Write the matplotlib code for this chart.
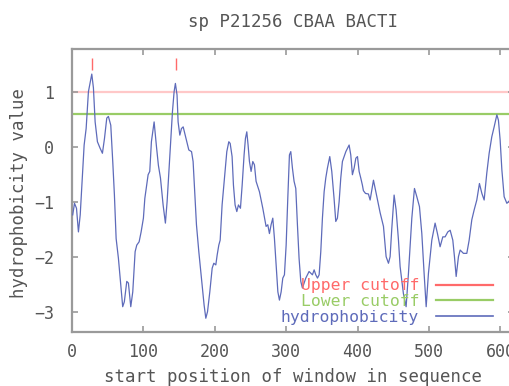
import matplotlib
matplotlib.use('Agg')
import matplotlib.pyplot as plt
from matplotlib.lines import Line2D

plt.rcParams['font.family'] = ['DejaVu Sans Mono']

title = "sp P21256 CBAA BACTI"
x_label = "start position of window in sequence"
y_label = "hydrophobicity value"

positions = [
    1, 3.5, 6.3, 9, 11.5, 13.8, 17, 19.8, 23, 25.6, 27.7, 30, 32.4, 35.6, 39.4,
    42.6, 45.5, 48.7, 51, 54.3, 57.1, 59.4, 61.8, 65, 68.3, 71, 73.3, 76.7, 79,
    82.3, 85.1, 88.4, 90.7, 94, 96.8, 100, 102, 106.6, 108.9, 111.2, 115, 118.3,
    121, 123.9, 127.6, 130.8, 133.2, 136, 138.8, 140.7, 143, 144.8, 147.1, 148.6,
    151, 153.3, 155.7, 158, 160.9, 163.6, 167.4, 169.6, 171.9, 174.3, 177.6,
    181.3, 185, 187.4, 189.8, 193, 196.3, 198.6, 201.4, 203.3, 205.6, 207.5,
    210.2, 213.5, 216.8, 219.6, 221.5, 224.2, 226.1, 228.4, 230.8, 233.1, 235.9,
    238.3, 241, 242.9, 244.8, 246.6, 248.5, 250.8, 253.2, 255.5, 257.8, 262.5,
    267.2, 271.8, 274.2, 276.5, 278.8, 281.2, 283.5, 285.9, 288.3, 290.5, 292.9,
    295.2, 297.5, 299.9, 302.2, 304.5, 306.4, 308.7, 311, 313.4, 315.7, 318,
    320.4, 322.7, 325, 327.4, 329.7, 332, 334.4, 336.7, 339.1, 341.4, 343.8,
    346.1, 348.4, 350.7, 353.1, 355.4, 357.7, 361, 363.8, 367, 369.4, 371.7,
    374.1, 376.4, 378.7, 381.1, 383.5, 385.8, 388.1, 390.4, 392.7, 395.1, 397.5,
    399.8, 402.1, 404.4, 406.7, 408.1, 411, 415.1, 417.5, 422.2, 426.9, 431.5,
    436.2, 439.9, 443.2, 445.5, 447.8, 451.1, 453.9, 457.2, 459.5, 464.1, 467.9,
    471.2, 475.9, 479.6, 482.9, 486.6, 489.9, 493.1, 496, 499.2, 503.9, 508.5,
    511.8, 515.5, 519.3, 522.5, 526.3, 529.6, 533.3, 535.6, 538, 541.2, 543.6,
    548.2, 552.9, 556.2, 559.9, 563.2, 566.9, 570.6, 574, 577.2, 580.9, 584.2,
    587.9, 591.2, 595, 597.2, 599.6, 602, 605.2, 609, 613.6, 617,
]

hydrophobicity = [
    -1.24, -1.03, -1.12, -1.55, -1.24, -0.70, 0.03, 0.33, 1.0, 1.18, 1.32, 1.07,
    0.45, 0.09, -0.03, -0.12, 0.15, 0.52, 0.55, 0.39, -0.28, -0.88, -1.67, -2.03,
    -2.51, -2.91, -2.82, -2.45, -2.48, -2.91, -2.64, -1.91, -1.79, -1.73, -1.55,
    -1.30, -0.94, -0.51, -0.45, 0.09, 0.45, 0.0, -0.34, -0.57, -1.06, -1.39,
    -1.0, -0.39, 0.21, 0.64, 1.0, 1.15, 0.94, 0.45, 0.21, 0.33, 0.36, 0.24, 0.09,
    -0.06, -0.09, -0.27, -0.82, -1.42, -1.91, -2.39, -2.88, -3.12, -3.0, -2.64,
    -2.21, -2.12, -2.15, -1.97, -1.79, -1.70, -1.06, -0.57, -0.09, 0.09, 0.06,
    -0.18, -0.70, -1.06, -1.18, -1.06, -1.12, -0.70, -0.15, 0.15, 0.27, 0.03,
    -0.27, -0.45, -0.27, -0.33, -0.63, -0.82, -1.12, -1.45, -1.42, -1.58, -1.42,
    -1.30, -1.67, -2.15, -2.64, -2.79, -2.64, -2.39, -2.33, -1.79, -0.94, -0.15,
    -0.09, -0.39, -0.63, -0.76, -1.42, -2.03, -2.45, -2.57, -2.48, -2.39, -2.33,
    -2.27, -2.30, -2.33, -2.24, -2.33, -2.39, -2.33, -1.91, -1.30, -0.82, -0.57,
    -0.39, -0.18, -0.45, -0.94, -1.36, -1.30, -1.0, -0.57, -0.27, -0.18, -0.09,
    -0.03, 0.03, -0.15, -0.51, -0.39, -0.21, -0.18, -0.45, -0.57, -0.70, -0.80,
    -0.85, -0.86, -0.97, -0.61, -0.91, -1.20, -1.45, -2.0, -2.12, -2.0, -1.5,
    -0.88, -1.15, -1.70, -2.18, -2.67, -2.91, -2.30, -1.30, -0.76, -0.91, -1.09,
    -1.58, -2.30, -2.91, -2.30, -1.70, -1.39, -1.58, -1.82, -1.64, -1.64, -1.55,
    -1.52, -1.70, -2.0, -2.36, -2.0, -1.88, -1.94, -1.94, -1.70, -1.33, -1.15,
    -0.97, -0.67, -0.85, -0.97, -0.48, -0.12, 0.18, 0.36, 0.58, 0.48, 0.12,
    -0.42, -0.91, -1.03, -0.97, -1.0,
]

upper_cutoff = 1.0
lower_cutoff = 0.6
peak_positions = [28, 145]
peak_marker_level = 1.5

x_ticks = [0, 100, 200, 300, 400, 500, 600]
y_ticks = [-3, -2, -1, 0, 1]
x_limits = (0, 619)
y_limits = (-3.37, 1.776)

legend_labels = ["Upper cutoff", "Lower cutoff", "hydrophobicity"]

W, H = 510, 386
fig = plt.figure(figsize=(W / 100, H / 100), dpi=100)
ax = fig.add_axes([72 / W, 1 - 332 / H, 442 / W, 283 / H])

text_color = '#555555'
spine_color = '#9a9a9a'
blue = '#5e6bba'
pink = '#ffc8c8'
green = '#99cc66'
red = '#ff6a6a'

ax.axhline(upper_cutoff, color=pink, lw=1.6, zorder=1)
ax.axhline(lower_cutoff, color=green, lw=1.6, zorder=1)
ax.plot(positions, hydrophobicity, color=blue, lw=0.9, zorder=3)
ax.plot(peak_positions, [peak_marker_level] * len(peak_positions), linestyle='none',
        marker='|', markersize=9, markeredgewidth=1.0, color=red)

ax.set_xlim(*x_limits)
ax.set_ylim(*y_limits)
ax.set_xticks(x_ticks)
ax.set_yticks(y_ticks)
ax.tick_params(direction='in', length=4, width=1.2, color=spine_color,
               top=True, right=True, labelsize=12, labelcolor=text_color)
ax.tick_params(axis='x', pad=8)
ax.tick_params(axis='y', pad=13)
for s in ax.spines.values():
    s.set_color(spine_color)
    s.set_linewidth(1.6)

fig.text(293 / W, 1 - 27 / H, title, ha='center', va='baseline', fontsize=12.5,
         color=text_color)
fig.text(293 / W, 1 - 382 / H, x_label, ha='center', va='baseline', fontsize=12.5,
         color=text_color)
fig.text(19 / W, 1 - 193 / H, y_label, ha='center', va='center', rotation=90,
         fontsize=12.5, color=text_color)

handles = [Line2D([], [], color=red, lw=1.6), Line2D([], [], color=green, lw=1.6),
           Line2D([], [], color=blue, lw=1.2)]
leg = ax.legend(handles, legend_labels, loc='lower right',
                bbox_to_anchor=(493 / W, 1 - 325 / H), bbox_transform=fig.transFigure,
                markerfirst=False, frameon=False, borderpad=0, borderaxespad=0,
                labelcolor='linecolor', handlelength=3.5, handletextpad=1.0,
                labelspacing=0.05, fontsize=11.8)

fig.savefig('out.png', dpi=100)
